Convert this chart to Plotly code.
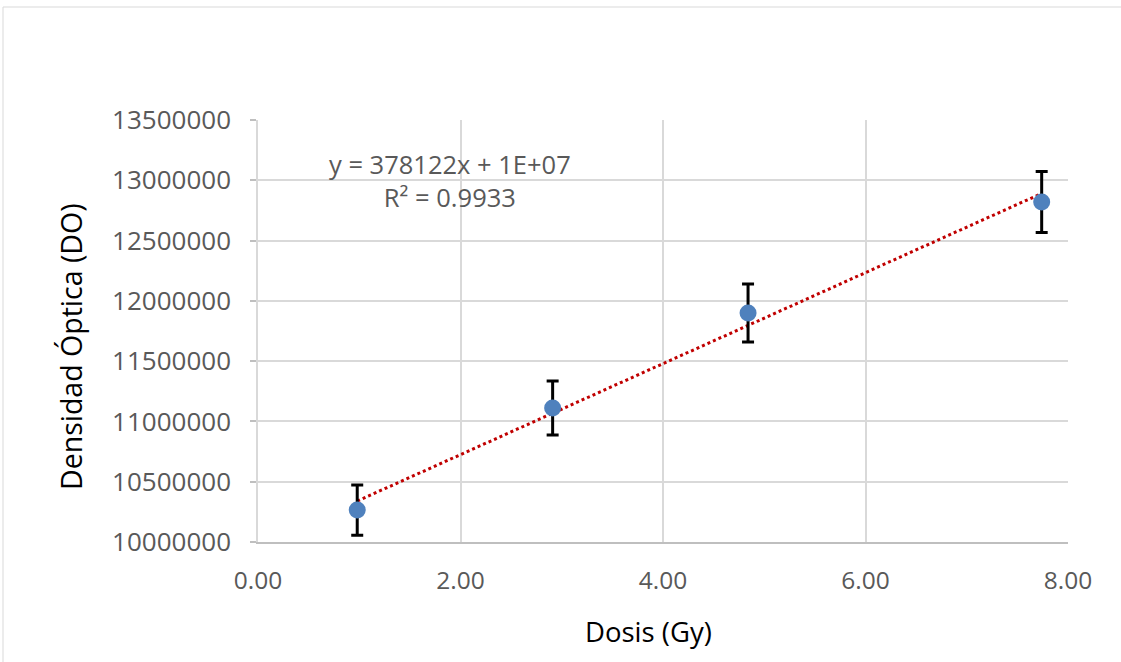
import numpy as np
import plotly.graph_objects as go

# Data
dose = [0.98, 2.91, 4.84, 7.74]
density = [10265000, 11111000, 11899000, 12820000]
err = [208000, 224000, 240000, 253000]

x_ticks = [0, 2, 4, 6, 8]
x_tick_labels = ["0.00", "2.00", "4.00", "6.00", "8.00"]
y_ticks = [10000000, 10500000, 11000000, 11500000, 12000000, 12500000, 13000000, 13500000]
y_tick_labels = [str(v) for v in y_ticks]
eq_text = "y = 378122x + 1E+07<br>R² = 0.9933"
x_title = "Dosis (Gy)"
y_title = "Densidad Óptica (DO)"

slope, intercept = np.polyfit(dose, density, 1)
tx = [min(dose), max(dose)]
ty = [slope * v + intercept for v in tx]

FONT = "Open Sans"
W, H = 1121, 662
L, R, T, B = 258, 53, 120, 120

fig = go.Figure()
fig.add_trace(go.Scatter(
    x=tx, y=ty, mode="lines",
    line=dict(color="#C00000", width=3, dash="dot"),
    hoverinfo="skip", showlegend=False,
))
fig.add_trace(go.Scatter(
    x=dose, y=density, mode="markers",
    marker=dict(color="#4F81BD", size=17),
    error_y=dict(type="data", array=err, color="#000000", thickness=3, width=6),
    showlegend=False,
))

pw = W - L - R
ph = H - T - B
def px(xp):
    return (xp - L) / pw
def py(yp):
    return (H - B - yp) / ph

fig.add_shape(type="rect", xref="paper", yref="paper",
              x0=px(3), x1=px(1130), y0=py(680), y1=py(7),
              line=dict(color="#d9d9d9", width=1), layer="below")

fig.add_annotation(x=px(449.5), y=py(180), xref="paper", yref="paper",
                   xanchor="center", yanchor="middle",
                   text=eq_text, showarrow=False, align="center",
                   font=dict(family=FONT, size=25.5, color="#595959"))

fig.add_annotation(x=px(648.5), y=py(631), xref="paper", yref="paper",
                   xanchor="center", yanchor="middle",
                   text=x_title, showarrow=False,
                   font=dict(family=FONT, size=27.5, color="#000000"))

fig.add_annotation(x=px(71), y=py(347), xref="paper", yref="paper",
                   xanchor="center", yanchor="middle", textangle=-90,
                   text=y_title, showarrow=False,
                   font=dict(family=FONT, size=28.5, color="#000000"))

fig.update_layout(
    width=W, height=H,
    margin=dict(l=L, r=R, t=T, b=B),
    paper_bgcolor="white", plot_bgcolor="white",
    font=dict(family=FONT),
    xaxis=dict(
        range=[0, 8], tickvals=x_ticks, ticktext=x_tick_labels,
        showgrid=True, gridcolor="#d9d9d9", gridwidth=1.5,
        showline=True, linecolor="#bfbfbf", linewidth=2,
        zeroline=False, ticks="", ticklen=0,
        ticklabelstandoff=16,
        tickfont=dict(family=FONT, size=24.5, color="#595959"),
    ),
    yaxis=dict(
        range=[10000000, 13500000], tickvals=y_ticks, ticktext=y_tick_labels,
        showgrid=True, gridcolor="#d9d9d9", gridwidth=1.5,
        showline=True, linecolor="#d9d9d9", linewidth=1.5,
        zeroline=False, ticks="outside", ticklen=6, tickcolor="#bfbfbf", tickwidth=1.5,
        ticklabelstandoff=14,
        tickfont=dict(family=FONT, size=26, color="#595959"),
    ),
)

fig.write_html("out.html")
